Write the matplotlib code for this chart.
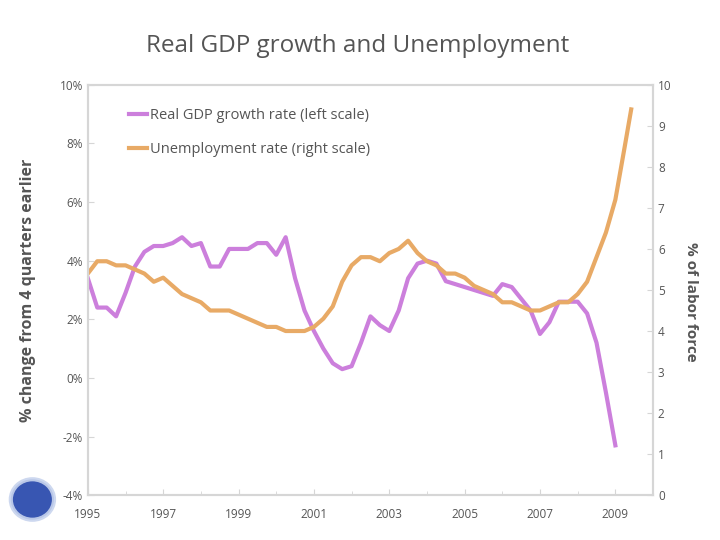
import numpy as np
import matplotlib.pyplot as plt
from matplotlib.patches import Ellipse

plt.rcParams['font.family'] = ['Open Sans', 'DejaVu Sans']

# ========= Data =========
# Real GDP growth, % change from 4 quarters earlier (left scale), quarterly 1995Q1..2009Q1
gdp_year = np.arange(1995, 2009.01, 0.25)
gdp_growth = [3.4, 2.4, 2.4, 2.1, 2.9, 3.8, 4.3, 4.5,
              4.5, 4.6, 4.8, 4.5, 4.6, 3.8, 3.8, 4.4,
              4.4, 4.4, 4.6, 4.6, 4.2, 4.8, 3.4, 2.3,
              1.6, 1.0, 0.5, 0.3, 0.4, 1.2, 2.1, 1.8,
              1.6, 2.3, 3.4, 3.9, 4.0, 3.9, 3.3, 3.2,
              3.1, 3.0, 2.9, 2.8, 3.2, 3.1, 2.7, 2.3,
              1.5, 1.9, 2.6, 2.6, 2.6, 2.2, 1.2, -0.5,
              -2.3]

# Unemployment rate, % of labor force (right scale)
unemp_year = list(np.arange(1995, 2009.26, 0.25)) + [2009.42]
unemp_rate = [5.4, 5.7, 5.7, 5.6, 5.6, 5.5, 5.4, 5.2,
              5.3, 5.1, 4.9, 4.8, 4.7, 4.5, 4.5, 4.5,
              4.4, 4.3, 4.2, 4.1, 4.1, 4.0, 4.0, 4.0,
              4.1, 4.3, 4.6, 5.2, 5.6, 5.8, 5.8, 5.7,
              5.9, 6.0, 6.2, 5.9, 5.7, 5.6, 5.4, 5.4,
              5.3, 5.1, 5.0, 4.9, 4.7, 4.7, 4.6, 4.5,
              4.5, 4.6, 4.7, 4.7, 4.9, 5.2, 5.8, 6.4,
              7.2, 8.5, 9.4]

x_ticks = [1995, 1997, 1999, 2001, 2003, 2005, 2007, 2009]
left_ticks = [-4, -2, 0, 2, 4, 6, 8, 10]
right_ticks = list(range(0, 11))

purple = '#CC7FDC'
orange = '#E8AA66'
grey = '#D6D6D6'
text_col = '#555555'

# ========= Plot =========
fig = plt.figure(figsize=(7.2, 5.4), dpi=100)
ax = fig.add_axes([0.122, 0.083, 0.785, 0.76])
ax2 = ax.twinx()

l1, = ax.plot(gdp_year, gdp_growth, color=purple, lw=3, solid_joinstyle='round',
              label='Real GDP growth rate (left scale)')
l2, = ax2.plot(unemp_year, unemp_rate, color=orange, lw=3, solid_joinstyle='round',
               label='Unemployment rate (right scale)')

ax.set_xlim(1995, 2010)
ax.set_ylim(-4, 10)
ax2.set_ylim(0, 10)
ax.set_xticks(x_ticks)
ax.set_xticks(np.arange(1995, 2010.1, 1), minor=True)
ax.set_yticks(left_ticks)
ax.set_yticklabels([f'{v}%' for v in left_ticks])
ax2.set_yticks(right_ticks)

for a in (ax, ax2):
    for s in a.spines.values():
        s.set_color(grey)
        s.set_linewidth(1.5)
    a.tick_params(colors=grey, labelcolor=text_col, labelsize=8.5, direction='in', length=4)
ax.tick_params(axis='x', which='minor', colors=grey, direction='in', length=3)
ax.tick_params(axis='x', pad=9)

ax.set_ylabel('% change from 4 quarters earlier', fontsize=11.5, color=text_col, fontweight='bold')
ax.yaxis.set_label_coords(-0.092, 0.5)
ax2.set_ylabel('% of labor force', fontsize=11, color=text_col, fontweight='bold',
               rotation=270, labelpad=18)
ax2.yaxis.set_label_coords(1.08, 0.47)

fig.text(0.497, 0.915, 'Real GDP growth and Unemployment', ha='center', va='center',
         fontsize=17.5, color=text_col)

ax.legend(handles=[l1, l2], loc='upper left', bbox_to_anchor=(0.05, 0.975), frameon=False,
          fontsize=10.5, handlelength=1.2, handletextpad=0.2, labelspacing=1.3,
          labelcolor=text_col)

# logo in bottom-left corner
fig.patches.append(Ellipse((0.045, 0.075), 0.06, 0.075, transform=fig.transFigure,
                           facecolor='#2244AA', edgecolor='#C8D4EE', lw=3, alpha=0.9))

fig.savefig('out.png', dpi=100)
